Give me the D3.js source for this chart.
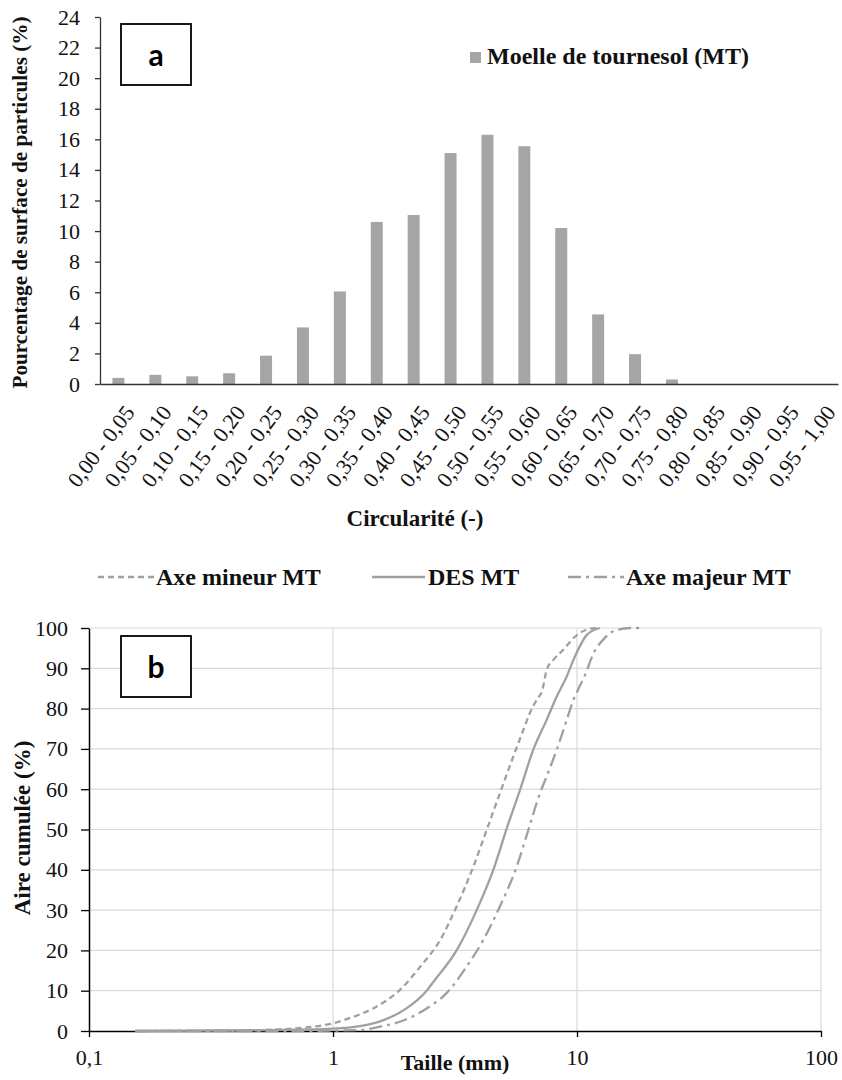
<!DOCTYPE html>
<html><head><meta charset="utf-8">
<script src="https://cdn.jsdelivr.net/npm/d3@7"></script>
<style>body{margin:0;background:#fff} svg{display:block} .serif{font-family:"Liberation Serif","Times New Roman",serif}</style>
</head><body><svg id="c" width="842" height="1080"></svg>
<script>
// ---------- Data: chart a ----------
const categories = ["0,00 - 0,05","0,05 - 0,10","0,10 - 0,15","0,15 - 0,20","0,20 - 0,25","0,25 - 0,30","0,30 - 0,35","0,35 - 0,40","0,40 - 0,45","0,45 - 0,50","0,50 - 0,55","0,55 - 0,60","0,60 - 0,65","0,65 - 0,70","0,70 - 0,75","0,75 - 0,80","0,80 - 0,85","0,85 - 0,90","0,90 - 0,95","0,95 - 1,00"];
const surfacePct = [0.4,0.6,0.5,0.7,1.85,3.7,6.05,10.6,11.05,15.1,16.3,15.55,10.2,4.55,1.95,0.3,0,0,0,0];
const yTicksA = [0,2,4,6,8,10,12,14,16,18,20,22,24];
const seriesNameA = "Moelle de tournesol (MT)";

// ---------- Data: chart b ----------
const sizeMineur = [0.155,0.4,0.6,0.81,1.0,1.17,1.46,1.88,2.28,2.75,3.21,3.76,4.3,4.83,5.48,6.03,6.41,6.84,7.2,7.51,8.0,8.79,9.67,10.96,12.0];
const cumMineur  = [0,0.1,0.4,1.0,1.9,3.2,5.6,10.2,16,22.6,30.9,40.8,50.5,59,68.1,74.7,78.9,82.2,84.5,89.6,92.1,94.6,97.5,99.6,100];
const sizeDES = [0.155,0.5,1.0,1.29,1.61,2.0,2.42,2.58,3.21,3.88,4.54,5.2,5.84,6.62,7.51,8.26,9.08,9.67,10.45,10.96,12.4];
const cumDES  = [0,0.2,0.6,1.2,2.7,5.6,10,12.2,20,30,40,51,59.8,69.8,77.2,83,88,92.1,96.3,98.3,100];
const sizeMajeur = [0.155,0.6,1.25,1.56,1.88,2.42,2.92,3.53,4.13,4.83,5.66,6.35,7.05,7.51,8.26,9.08,9.67,10.1,10.8,11.7,12.8,14.1,16.5,18.1];
const cumMajeur  = [0,0,0.2,1.1,2.3,5.6,9.4,16,22.6,30.9,40.8,50.3,59,63.2,69.8,77.2,82.2,84.7,88.4,93.8,97.1,99.2,100,100];
const seriesNamesB = ["Axe mineur MT","DES MT","Axe majeur MT"];
const xTicksB = [0.1,1,10,100];
const xTickLabelsB = ["0,1","1","10","100"];
const yTicksB = [0,10,20,30,40,50,60,70,80,90,100];

const svg = d3.select("#c");
const barColor = "#a5a5a5";
const lineColor = "#a0a0a0";
const textColor = "#111";

function serifText(sel, size, bold){
  sel.attr("class","serif").style("font-family","'Liberation Serif','Times New Roman',serif")
     .attr("font-size",size).attr("fill",textColor);
  if(bold) sel.attr("font-weight","bold");
  return sel;
}

// ================= Chart a =================
const A = {left:100, right:838, top:17, bottom:384};
const xA = d3.scaleBand().domain(categories).range([A.left, A.right]).paddingInner(0.675).paddingOuter(0.3375);
const yA = d3.scaleLinear().domain([0,24]).range([A.bottom, A.top]);

const gA = svg.append("g");
gA.selectAll("rect.bar").data(surfacePct).join("rect")
  .attr("class","bar")
  .attr("x",(d,i)=>xA(categories[i]))
  .attr("width",xA.bandwidth())
  .attr("y",d=>yA(d))
  .attr("height",d=>yA(0)-yA(d))
  .attr("fill",barColor);

const yAxisA = gA.append("g").attr("transform",`translate(${A.left},0)`)
  .call(d3.axisLeft(yA).tickValues(yTicksA).tickSize(5).tickPadding(15).tickSizeOuter(0));
yAxisA.select(".domain").attr("stroke","#333").attr("stroke-width",1.3);
yAxisA.selectAll(".tick line").attr("stroke","#333").attr("stroke-width",1.3);
serifText(yAxisA.selectAll("text"),22,false);

const xAxisA = gA.append("g").attr("transform",`translate(0,${A.bottom})`)
  .call(d3.axisBottom(xA).tickSize(0).tickSizeOuter(0).tickFormat(""));
xAxisA.select(".domain").attr("stroke","#333").attr("stroke-width",1.5);

// rotated category labels
serifText(gA.selectAll("text.cat").data(categories).join("text"),22,false)
  .attr("transform",d=>`translate(${xA(d)+xA.bandwidth()/2+11},${A.bottom+24}) rotate(-53)`)
  .attr("text-anchor","end")
  .attr("dy","0.35em")
  .text(d=>d);

// axis titles
serifText(gA.append("text"),21,true)
  .attr("transform",`translate(27,${(A.top+A.bottom)/2+2}) rotate(-90)`)
  .attr("text-anchor","middle")
  .attr("textLength",372).attr("lengthAdjust","spacingAndGlyphs")
  .text("Pourcentage de surface de particules (%)");
serifText(gA.append("text"),23,true)
  .attr("x",415).attr("y",526)
  .attr("text-anchor","middle")
  .text("Circularité (-)");

// legend a
gA.append("rect").attr("x",470).attr("y",52).attr("width",11).attr("height",11).attr("fill",barColor);
serifText(gA.append("text"),24,true).attr("x",487).attr("y",64).text(seriesNameA);

// box a
gA.append("rect").attr("x",121).attr("y",24).attr("width",70).attr("height",61)
  .attr("fill","#fff").attr("stroke","#000").attr("stroke-width",1.8);
gA.append("text").attr("x",156).attr("y",66).attr("text-anchor","middle")
  .attr("font-family","Lato,'Open Sans',sans-serif").attr("font-weight","bold").attr("font-size",30)
  .attr("fill","#000").text("a");

// ================= Chart b =================
const B = {left:89, right:821, top:628, bottom:1031};
const xB = d3.scaleLog().domain([0.1,100]).range([B.left, B.right]);
const yB = d3.scaleLinear().domain([0,100]).range([B.bottom, B.top]);
const gB = svg.append("g");

// gridlines
gB.append("g").selectAll("line.hg").data(yTicksB.filter(d=>d>0)).join("line")
  .attr("x1",B.left).attr("x2",B.right).attr("y1",d=>yB(d)).attr("y2",d=>yB(d))
  .attr("stroke","#d9d9d9").attr("stroke-width",1.2);
gB.append("g").selectAll("line.vg").data(xTicksB.filter(d=>d>0.1)).join("line")
  .attr("x1",d=>xB(d)).attr("x2",d=>xB(d)).attr("y1",B.top).attr("y2",B.bottom)
  .attr("stroke","#d9d9d9").attr("stroke-width",1.2);

// axes
const yAxisB = gB.append("g").attr("transform",`translate(${B.left},0)`)
  .call(d3.axisLeft(yB).tickValues(yTicksB).tickSize(8).tickPadding(13).tickSizeOuter(0));
yAxisB.select(".domain").attr("stroke","#000").attr("stroke-width",1.5);
yAxisB.selectAll(".tick line").attr("stroke","#000").attr("stroke-width",1.3);
serifText(yAxisB.selectAll("text"),22,false);

const xAxisB = gB.append("g").attr("transform",`translate(0,${B.bottom})`)
  .call(d3.axisBottom(xB).tickValues(xTicksB).tickSize(6).tickPadding(12).tickSizeOuter(0)
    .tickFormat((d,i)=>xTickLabelsB[i]));
xAxisB.select(".domain").attr("stroke","#000").attr("stroke-width",1.5);
xAxisB.selectAll(".tick line").attr("stroke","#000").attr("stroke-width",1.3);
serifText(xAxisB.selectAll("text"),22,false);

// curves
const line = d3.line().x(d=>xB(d[0])).y(d=>yB(d[1])).curve(d3.curveMonotoneX);
const curves = [
  {sizes:sizeMineur, cum:cumMineur, dash:"6,4"},
  {sizes:sizeDES, cum:cumDES, dash:null},
  {sizes:sizeMajeur, cum:cumMajeur, dash:"13,5,3,5"}
];
curves.forEach(c=>{
  gB.append("path").datum(c.sizes.map((s,i)=>[s,c.cum[i]]))
    .attr("d",line).attr("fill","none").attr("stroke",lineColor).attr("stroke-width",2.3)
    .attr("stroke-dasharray",c.dash);
});

// titles
serifText(gB.append("text"),23,true)
  .attr("transform",`translate(30,828) rotate(-90)`)
  .attr("text-anchor","middle")
  .text("Aire cumulée (%)");
serifText(gB.append("text"),22,true).attr("x",455).attr("y",1070).attr("text-anchor","middle")
  .text("Taille (mm)");

// legend b
const legB = [
  {x1:98, x2:154, tx:156, dash:"6,4", name:seriesNamesB[0]},
  {x1:372, x2:425, tx:428, dash:null, name:seriesNamesB[1]},
  {x1:568, x2:624, tx:626, dash:"13,5,3,5", name:seriesNamesB[2]}
];
legB.forEach(l=>{
  gB.append("line").attr("x1",l.x1).attr("x2",l.x2).attr("y1",577).attr("y2",577)
    .attr("stroke",lineColor).attr("stroke-width",2.3).attr("stroke-dasharray",l.dash);
  serifText(gB.append("text"),24,true).attr("x",l.tx).attr("y",585).text(l.name);
});

// box b
gB.append("rect").attr("x",121).attr("y",636).attr("width",70).attr("height",61)
  .attr("fill","#fff").attr("stroke","#000").attr("stroke-width",1.8);
gB.append("text").attr("x",156).attr("y",678).attr("text-anchor","middle")
  .attr("font-family","Lato,'Open Sans',sans-serif").attr("font-weight","bold").attr("font-size",30)
  .attr("fill","#000").text("b");
</script></body></html>
